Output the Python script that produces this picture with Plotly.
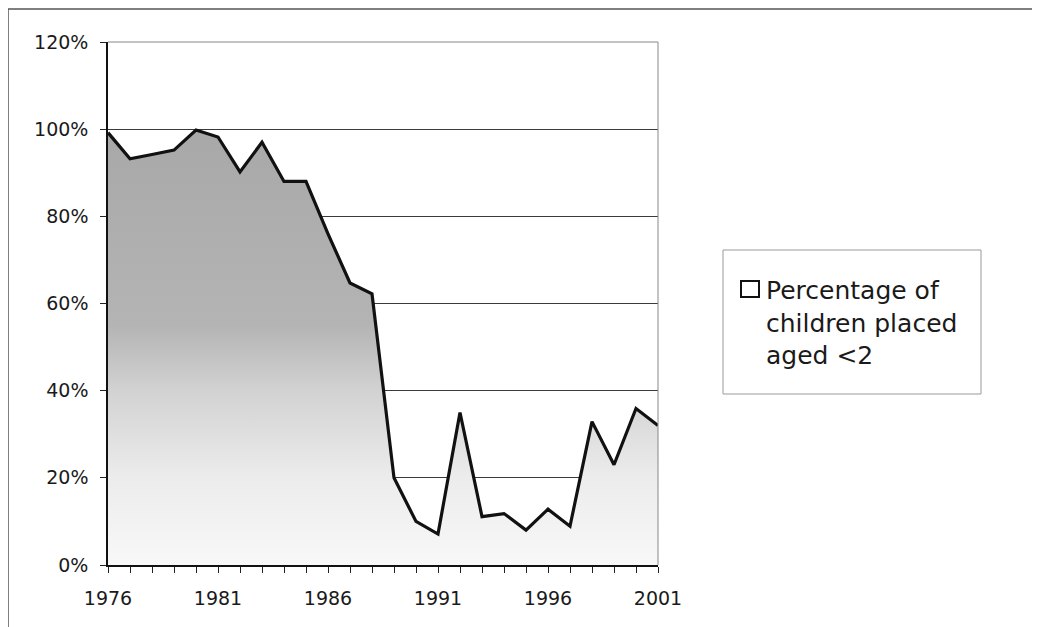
import plotly.graph_objects as go

years = list(range(1976, 2002))
pct_under2 = [99.2, 93.2, 94.2, 95.2, 99.8, 98.2, 90.2, 97.0, 88.0, 88.0,
              76.0, 64.7, 62.2, 20.0, 10.0, 7.1, 35.0, 11.1, 11.8, 8.0,
              12.8, 8.9, 32.9, 23.0, 35.9, 32.0]
series_name = "Percentage of children placed aged <2"
x_tick_vals = [1976, 1981, 1986, 1991, 1996, 2001]
y_tick_vals = [0, 20, 40, 60, 80, 100, 120]
y_tick_text = [f"{v}%" for v in y_tick_vals]

# page body has an 8px margin, so the figure starts at (8, 8)
OFF = 8
W, H = 1040 - OFF, 627 - OFF
L, R, T, B = 108, 658, 42, 565  # target page pixels of the plot area

def px(x):
    return (x - L) / (R - L)

def py(y):
    return (B - y) / (B - T)

fig = go.Figure()
fig.add_trace(go.Scatter(
    x=years, y=pct_under2, mode="lines", name=series_name,
    line=dict(color="#111111", width=3.2),
    fill="tozeroy",
    fillgradient=dict(type="vertical", start=0, stop=100,
                      colorscale=[[0, "#f8f8f8"], [0.2, "#ececec"],
                                  [0.4, "#d2d2d2"], [0.55, "#b4b4b4"],
                                  [1, "#a8a8a8"]]),
    showlegend=False, hoverinfo="skip"))

font = dict(family="DejaVu Sans, Verdana, sans-serif", size=19, color="#1a1a1a")

fig.update_layout(
    width=W, height=H,
    margin=dict(l=L - OFF, r=1040 - R, t=T - OFF, b=627 - B, pad=0),
    paper_bgcolor="white", plot_bgcolor="white",
    font=font, showlegend=False,
    xaxis=dict(range=[1976, 2001], tickvals=x_tick_vals, ticks="outside",
               ticklen=6, tickcolor="#222", tickwidth=1,
               minor=dict(dtick=1, tick0=1976, ticks="outside", ticklen=6,
                          tickcolor="#222", tickwidth=1, showgrid=False),
               showgrid=False, zeroline=False, showline=True,
               linecolor="#111", linewidth=1.5, ticklabelstandoff=9,
               tickfont=font),
    yaxis=dict(range=[0, 120], tickvals=y_tick_vals, ticktext=y_tick_text,
               ticks="outside", ticklen=6, tickcolor="#222", tickwidth=1,
               showgrid=True, gridcolor="#3a3a3a", gridwidth=1,
               zeroline=False, showline=True, linecolor="#111", linewidth=1.5,
               ticklabelstandoff=8, tickfont=font),
)

shapes = [
    dict(type="line", xref="paper", yref="paper", x0=0, x1=1, y0=1, y1=1,
         line=dict(color="#888", width=1)),
    dict(type="line", xref="paper", yref="paper", x0=1, x1=1, y0=0, y1=1,
         line=dict(color="#888", width=1)),
    dict(type="rect", xref="paper", yref="paper",
         x0=px(8), x1=px(1060), y0=py(650), y1=py(9),
         line=dict(color="#555", width=1.5), layer="below"),
    dict(type="rect", xref="paper", yref="paper",
         x0=px(723), x1=px(981), y0=py(394), y1=py(250),
         line=dict(color="#999", width=1), fillcolor="white"),
    dict(type="rect", xref="paper", yref="paper",
         x0=px(741), x1=px(759), y0=py(297), y1=py(281),
         line=dict(color="#111", width=2), fillcolor="white"),
]
fig.update_layout(shapes=shapes)

fig.add_annotation(
    xref="paper", yref="paper", x=px(764), y=py(323),
    xanchor="left", yanchor="middle", align="left", showarrow=False,
    text="Percentage of<br>children placed<br>aged &lt;2",
    font=dict(family="DejaVu Sans, Verdana, sans-serif", size=25, color="#1a1a1a"))

fig.write_html("out.html")
